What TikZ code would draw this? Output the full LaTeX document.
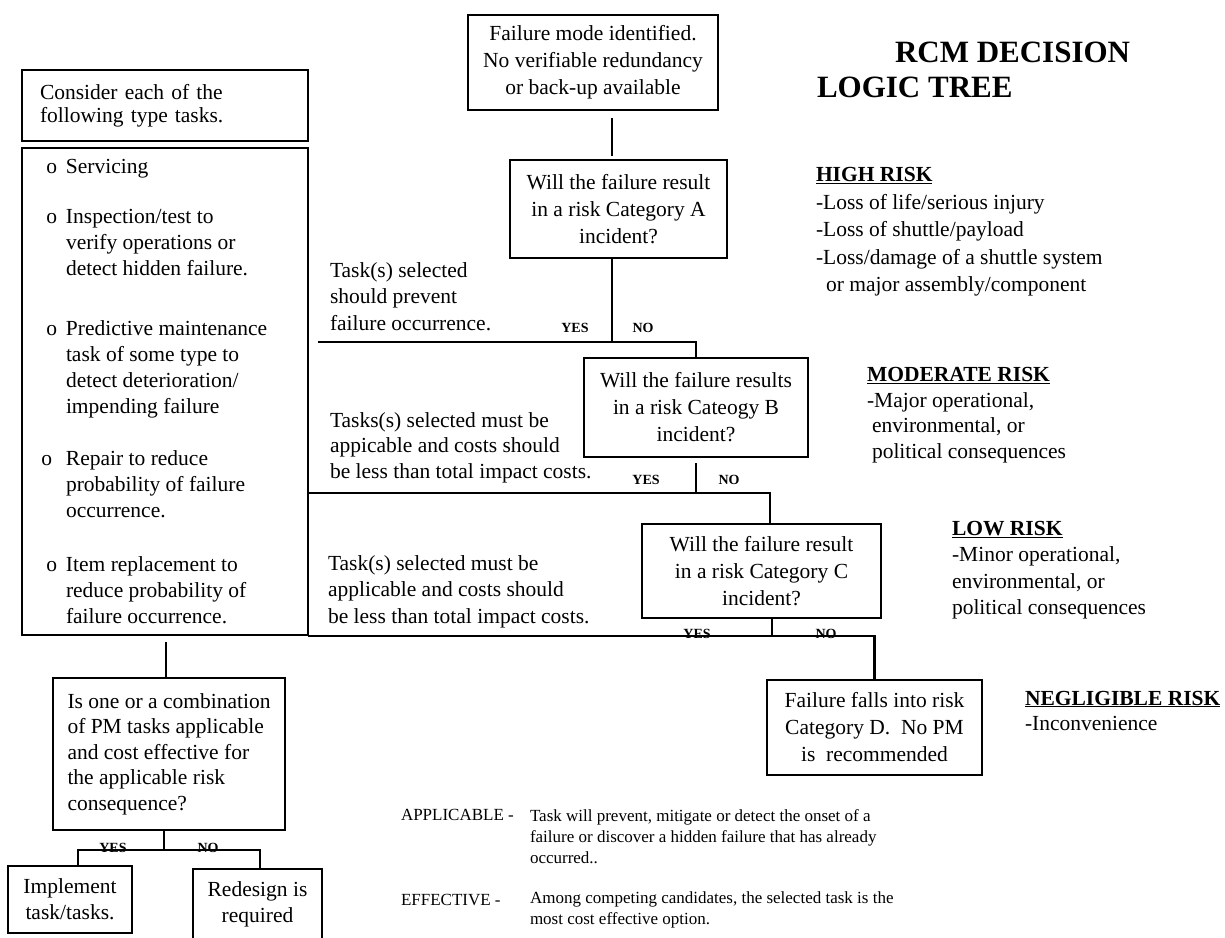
\documentclass[tikz,border=0pt]{standalone}
\usepackage{fontspec}
\setmainfont{Liberation Serif}
\begin{document}
\begin{tikzpicture}[x=1pt,y=-1pt,
  every node/.style={inner sep=0pt, outer sep=0pt},
  box/.style={draw, line width=2.3pt, align=center, font=\fontsize{21.5}{27}\selectfont},
  frame/.style={draw, line width=2.3pt},
  conn/.style={line width=2.2pt},
  yn/.style={font=\fontsize{14}{16}\selectfont\bfseries},
  note/.style={align=left, anchor=west},
  item/.style={font=\fontsize{21.5}{26}\selectfont, align=left, anchor=west},
  legend/.style={font=\fontsize{17}{21}\selectfont, align=left, anchor=west},
  risk/.style={align=left, anchor=west},
  titletext/.style={font=\fontsize{31}{36}\selectfont\bfseries, anchor=west}]
\useasboundingbox (0,0) rectangle (1225,937);

% title
\node[titletext] (title1) at (895,52) {RCM DECISION};
\node[titletext] (title2) at (817,87) {LOGIC TREE};

% main chain
\node[box, minimum width=250pt, minimum height=95pt] (top) at (593,62.5)
  {Failure mode identified.\\No verifiable redundancy\\or back-up available};
\node[box, minimum width=217pt, minimum height=98pt] (qa) at (618.5,209)
  {Will the failure result\\in a risk Category A\\incident?};
\node[box, minimum width=224pt, minimum height=99pt] (qb) at (696,407.5)
  {Will the failure results\\in a risk Cateogy B\\incident?};
\node[box, minimum width=239pt, minimum height=94pt] (qc) at (761.5,571)
  {Will the failure result\\in a risk Category C\\incident?};
\node[box, minimum width=215pt, minimum height=95pt] (qd) at (874.5,727.5)
  {Failure falls into risk\\Category D.\ \ No PM\\is\ \ recommended};

% left column
\node[box, font=\fontsize{21.5}{23.5}\selectfont, minimum width=286pt, minimum height=71pt, text width=250pt, align=left] (consider) at (165,105.5)
  {Consider each of the\\following type tasks.};
\node[frame, minimum width=286pt, minimum height=487pt] (tasks) at (165,391.5) {};
\node[item] (s1) at (66,169) {\llap{o\hspace{9pt}}Servicing};
\node[item] (s2) at (66,242.5) {\llap{o\hspace{9pt}}Inspection/test to\\verify operations or\\detect hidden failure.};
\node[item] (s3) at (66,369.5) {\llap{o\hspace{9pt}}Predictive maintenance\\task of some type to\\detect deterioration/\\impending failure};
\node[item] (s4) at (66,484) {\llap{o\hspace{14pt}}Repair to reduce\\probability of failure\\occurrence.};
\node[item] (s5) at (66,590) {\llap{o\hspace{9pt}}Item replacement to\\reduce probability of\\failure occurrence.};

\node[box, align=left, font=\fontsize{21.5}{25.5}\selectfont, minimum width=232pt, minimum height=152pt] (isone) at (169,754)
  {Is one or a combination\\of PM tasks applicable\\and cost effective for\\the applicable risk\\consequence?};
\node[box, font=\fontsize{21.5}{26}\selectfont, minimum width=124pt, minimum height=67pt] (impl) at (70,899.5)
  {Implement\\task/tasks.};
\node[box, font=\fontsize{21.5}{26}\selectfont, minimum width=129pt, minimum height=70pt] (redesign) at (257.5,904)
  {Redesign is\\required};

% middle notes
\node[note, font=\fontsize{21.5}{26.5}\selectfont] (n1) at (330,296.5)
  {Task(s) selected\\should prevent\\failure occurrence.};
\node[note, font=\fontsize{21.5}{25.5}\selectfont] (n2) at (330,447.5)
  {Tasks(s) selected must be\\appicable and costs should\\be less than total impact costs.};
\node[note, font=\fontsize{21.5}{26.5}\selectfont] (n3) at (328,591.5)
  {Task(s) selected must be\\applicable and costs should\\be less than total impact costs.};

% risk legends
\node[risk, font=\fontsize{21.5}{27.5}\selectfont] (high) at (816,232)
  {\textbf{\underline{HIGH RISK}}\\-Loss of life/serious injury\\-Loss of shuttle/payload\\-Loss/damage of a shuttle system\\\hspace{10pt}or major assembly/component};
\node[risk, font=\fontsize{21.5}{25.5}\selectfont] (moderate) at (867,415)
  {\textbf{\underline{MODERATE RISK}}\\-Major operational,\\\hspace{5pt}environmental, or\\\hspace{5pt}political consequences};
\node[risk, font=\fontsize{21.5}{26.5}\selectfont] (low) at (952,570)
  {\textbf{\underline{LOW RISK}}\\-Minor operational,\\environmental, or\\political consequences};
\node[risk, font=\fontsize{21.5}{25}\selectfont] (negl) at (1025,710.5)
  {\textbf{\underline{NEGLIGIBLE RISK}}\\-Inconvenience};

% definitions
\node[legend] (appl) at (401,815) {APPLICABLE -};
\node[legend] (appltext) at (530,837) {Task will prevent, mitigate or detect the onset of a\\failure or discover a hidden failure that has already\\occurred..};
\node[legend] (eff) at (401,900) {EFFECTIVE -};
\node[legend] (efftext) at (530,910) {Among competing candidates, the selected task is the\\most cost effective option.};

% connectors
\coordinate (a1) at (612,118);
\coordinate (a2) at (612,156);
\draw[conn] (a1) -- (a2);

\coordinate (jA) at (612,342);
\coordinate (yA) at (318,342);
\draw[conn] (qa.south -| jA) -- (jA);
\draw[conn] (yA) -- (jA -| qb.north) -- (qb.north);

\coordinate (jB) at (695,493);
\coordinate (kC) at (770,493);
\draw[conn] ([yshift=-6pt]qb.south) -- (qb.south |- jB);
\draw[conn] (tasks.east |- jB) -- (kC) -- (kC |- qc.north);

\coordinate (jC) at (772,636);
\draw[conn] (qc.south -| jC) -- (jC);
\draw[conn] (tasks.east |- jC) -- (jC -| qd.north) -- (qd.north);

\coordinate (d1) at (166,642);
\draw[conn] (d1) -- (d1 |- isone.north);

\coordinate (jE) at (164,850);
\coordinate (eL) at (78,850);
\coordinate (eR) at (260,850);
\draw[conn] (isone.south -| jE) -- (jE);
\draw[conn] (eL |- impl.north) -- (eL) -- (eR) -- (eR |- redesign.north);

% yes / no labels
\node[yn] (yesA) at (575,328) {YES};
\node[yn] (noA) at (643,328) {NO};
\node[yn] (yesB) at (646,480) {YES};
\node[yn] (noB) at (729,480) {NO};
\node[yn, anchor=south] (yesC) at (697,639) {YES};
\node[yn, anchor=south] (noC) at (826,639) {NO};
\node[yn, anchor=south] (yesE) at (113,853) {YES};
\node[yn, anchor=south] (noE) at (208,853) {NO};
\end{tikzpicture}
\end{document}
